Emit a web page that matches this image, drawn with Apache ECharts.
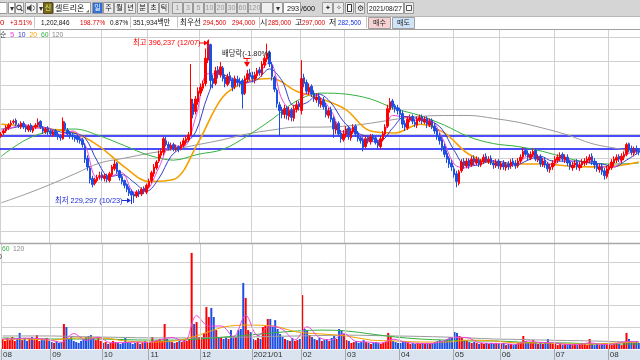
<!DOCTYPE html>
<html><head><meta charset="utf-8">
<script src="https://cdn.jsdelivr.net/npm/echarts@6/dist/echarts.min.js"></script>
<style>html,body{margin:0;padding:0;background:#fff;overflow:hidden}#c{width:640px;height:360px}</style>
</head><body><div id="c"></div>
<script>
// ---- categories (trading days per month shown) ----
const monthLabels = ['08','09','10','11','12','2021/01','02','03','04','05','06','07','08'];
const monthCounts = [20,21,19,21,21,20,18,22,22,19,22,22,13];

// ---- daily prices, thousand KRW ----
const openK = [
 298,301,303,306,310,312,314,309,307,311,307,304,309,303,307,309,313,306,302,306,
 303,299,303,300,298,295,311,304,301,299,298,297,295,294,287,275,265,254,249,252,256,
 258,254,257,252,258,264,270,262,256,252,248,244,241,238,236,241,238,244,240,
 246,252,259,265,272,278,281,293,289,285,289,284,287,285,288,292,294,299,331,323,333,
 342,347,352,376,392,357,352,366,361,368,358,351,360,356,349,356,354,355,342,356,363,
 360,356,360,366,362,371,377,384,371,358,345,330,325,320,327,318,325,316,325,331,
 324,358,353,343,349,342,335,339,330,335,329,319,325,316,304,311,301,294,
 299,306,296,302,308,301,296,294,287,296,292,298,296,292,287,294,300,308,325,334,329,327,
 325,321,311,306,314,318,312,309,314,318,312,316,309,314,308,304,298,294,287,280,275,270,
 264,259,249,262,272,267,273,268,275,270,273,268,271,277,271,275,270,267,272,
 266,270,265,269,267,272,270,267,272,276,283,280,275,278,283,273,277,268,273,269,263,266,
 270,273,275,279,273,276,271,265,268,271,265,268,270,271,273,277,272,269,263,267,262,256,
 263,265,270,273,277,273,276,279,290,285,280,285,283];
const closeK = [
 300,303,307,309,311,313,310,308,311,307,305,308,304,306,309,312,307,303,305,302,
 300,302,299,297,296,313,305,300,298,297,295,294,293,289,274,266,253,248,253,255,257,
 255,257,253,259,266,269,261,255,251,247,243,239,237,236,240,238,243,241,247,
 251,260,266,271,279,282,295,289,286,288,284,286,284,289,293,295,299,336,320,336,344,
 348,352,378,390,355,352,365,362,369,357,352,359,355,348,357,353,352,341,357,362,359,
 357,361,365,363,372,378,383,372,359,346,331,324,320,326,319,324,317,326,330,328,
 357,352,344,348,341,336,338,331,334,328,320,324,315,305,310,300,295,300,
 305,297,303,307,300,295,293,286,295,293,297,295,291,288,295,300,307,326,333,328,326,324,
 320,310,307,315,317,313,310,315,317,313,315,310,313,307,303,297,293,286,279,274,269,266,
 258,251,261,271,268,272,267,274,271,274,269,272,276,272,274,270,268,271,267,
 269,266,268,266,271,269,267,272,276,282,279,276,279,282,274,276,269,272,268,264,266,270,
 274,276,278,274,276,270,266,268,270,266,268,271,272,274,276,271,268,264,266,261,257,264,
 266,271,274,276,274,277,279,289,284,281,284,282,281];
const lowK = [
 296,299,301,304,307,310,308,306,305,305,302,302,302,301,305,307,305,300,300,299,
 298,297,297,294,293,294,303,297,295,294,292,291,290,286,270,262,249,245,247,250,253,
 252,251,250,250,256,262,259,252,248,244,240,236,234,229,234,235,236,238,238,
 244,249,256,263,270,275,278,287,283,283,282,282,281,283,286,289,292,298,316,320,330,
 339,344,349,373,346,347,350,357,358,354,348,349,352,344,346,349,348,326,340,353,355,
 353,352,357,360,359,368,374,369,355,343,327,298,316,316,315,314,313,313,322,324,
 320,348,341,340,338,333,332,328,327,325,317,316,312,296,300,297,291,292,
 296,294,293,300,297,292,290,282,285,290,289,292,289,285,284,292,298,306,322,325,322,320,
 316,306,303,304,312,310,307,306,312,310,310,306,307,305,300,294,289,282,276,270,265,262,
 255,245,247,260,264,265,264,266,268,268,266,266,269,270,269,268,264,265,264,
 263,263,262,263,264,266,264,265,270,274,277,273,273,276,272,271,266,266,265,261,260,263,
 267,270,272,271,270,267,263,262,265,263,262,265,267,268,270,268,264,261,260,258,253,254,
 259,263,267,270,271,270,273,277,281,278,277,279,278];
const highK = [
 302,305,309,311,314,315,316,311,313,313,309,310,311,308,311,316,314,308,307,308,
 305,304,305,302,300,317,313,306,303,301,299,299,297,296,290,278,267,257,255,258,261,
 261,259,259,261,268,273,271,263,258,253,249,246,243,240,242,243,245,246,249,
 254,262,269,273,283,285,297,297,292,291,291,289,288,292,296,298,302,372,336,339,348,
 352,355,388,396.2,393,361,369,370,374,370,361,362,364,358,360,360,358,357,360,366,367,
 364,364,368,369,375,381,393,386,374,360,347,333,328,330,329,328,327,330,334,334,
 376,362,356,352,351,345,342,342,337,338,332,327,328,318,313,313,304,304,
 308,308,305,310,310,303,298,296,298,298,300,300,298,294,298,303,310,330,337,336,331,330,
 327,324,314,318,320,320,315,318,320,320,318,318,316,316,311,306,301,297,290,283,277,273,
 267,262,263,274,275,275,275,277,278,277,276,274,279,280,277,278,273,274,274,
 272,273,271,272,274,275,273,275,279,286,285,283,282,285,285,279,279,275,276,271,269,273,
 277,279,281,281,279,279,273,271,273,274,271,274,275,277,279,280,275,272,269,270,265,267,
 269,274,277,279,279,280,282,291,291,288,287,288,285];
// ---- daily volume, 10k shares ----
const volume = [
 46,37,51,41,55,37,46,74,41,51,37,46,55,41,64,37,46,41,51,37,
 32,28,37,28,32,115,101,46,55,37,32,28,37,46,55,60,64,51,41,55,37,
 28,32,23,28,37,32,28,23,28,51,32,28,23,28,32,23,28,37,32,
 32,55,37,41,46,37,115,46,37,32,28,32,37,32,41,37,46,442,115,124,55,
 55,74,193,147,189,147,87,55,51,46,55,46,87,51,55,87,92,304,235,87,78,
 46,41,51,46,101,106,138,138,101,133,92,69,55,46,41,37,51,37,41,46,
 248,92,83,64,55,46,41,51,37,41,46,37,51,60,46,92,87,69,
 41,37,28,32,37,28,32,41,32,28,23,28,32,28,23,28,32,74,55,37,32,28,
 28,32,37,28,23,28,23,28,23,28,23,28,23,28,32,37,41,37,41,46,55,51,
 78,74,60,55,41,37,32,28,32,28,23,28,23,28,23,28,23,28,23,
 23,28,18,23,23,18,23,28,32,60,37,28,32,41,28,23,28,23,28,46,28,23,
 23,18,23,18,23,18,23,18,23,18,23,28,23,18,46,23,18,23,18,23,28,23,
 23,18,23,28,23,18,28,74,46,37,28,32,28];

// ---- moving averages (category index samples) ----
const maIdxA = [0,4,9,14,19,24,29,34,39,44,49,54,59,64,69,74,79,84,89,94,99,104,109,114,119,124,129,134,139,144,149,154,159,164,169,174,179,184,189,194,199,204,209,214,219,224,229,234,239,244,249,254,259];
const ma5 = [303,306,310,306,306,299,303,289,255,256,260,240,242,265,288,287,317,362,361,354,352,361,374,336,322,342,339,324,302,302,292,293,319,317,314,314,297,269,265,271,273,268,268,277,276,268,276,268,272,266,266,279,282];
const ma10 = [305,306,308,308,306,302,301,296,272,256,258,250,241,254,277,288,302,340,362,357,353,356,367,355,329,332,341,332,313,302,297,293,306,318,316,314,305,283,267,268,272,271,268,273,277,272,272,272,270,269,266,273,281];
const maIdxB = [0,10,20,30,40,50,60,70,80,90,100,110,120,130,140,150,160,170,180,190,200,210,220,230,240,250,259];
const ma20 = [310,308,305,301,287,266,251,253,291,338,354,357,344,336,325,303,301,310,301,279,270,269,269,267,266,267,271];
const ma60 = [277,294,303,305,298,288,278,273,279,284,298,315,334,342,341,336,326,319,309,297,290,287,282,275,270,269,270];
const ma120 = [229,238,248,259,270,275,280,284,289,294,300,304,307,307,308,311,315,318,319,319,316,312,306,299,290,285,281];
const vma5 = [46,46,50,49,42,31,71,40,54,29,29,32,30,42,53,34,153,105,106,57,155,61,106,90,42,102,52,42,71,35,32,27,45,31,26,25,35,54,53,29,26,25,21,37,30,29,21,20,28,21,23,34,34];
const vma20 = [41,46,41,51,51,37,32,37,64,101,110,106,78,69,60,41,37,32,32,41,37,28,28,23,23,28,32];
const vma60 = [51,48,46,46,46,43,41,41,46,55,64,74,83,87,83,69,55,46,41,37,37,32,28,28,23,23,23];
const vma120 = [60,60,60,57,55,53,51,51,51,53,55,58,60,62,64,62,60,58,55,51,46,44,41,39,37,34,32];

const supportLines = [298.4, 284.5];
const priceGridLines = [200, 225, 250, 275, 300, 325, 350, 375, 400];
const volGridLines = [100, 200, 300, 400];

// ---- build ----
const categories = [];
const monthStart = new Set();
monthCounts.forEach((n, m) => { monthStart.add(categories.length); for (let d = 1; d <= n; d++) categories.push(monthLabels[m] + '|' + d); });
const UP = '#ff0000', DOWN = '#1f4fe0';
const C5 = '#ee44dd', C10 = '#3340c8', C20 = '#f5a000', C60 = '#33b040', C120 = '#9a9a9a';
const candles = categories.map((_, i) => [openK[i], closeK[i], lowK[i], highK[i]]);
const vols = volume.map((v, i) => ({ value: v, itemStyle: { color: closeK[i] >= openK[i] ? UP : DOWN } }));
const pair = (idx, vals) => idx.map((x, k) => [x, vals[k]]);
const isStart = (i) => monthStart.has(i);
const GRID = '#d0d0d0';
const FONT = 'Liberation Sans, Noto Sans CJK KR, sans-serif';
const gridMark = (v) => ({ yAxis: v, lineStyle: { color: GRID, width: 1, type: 'solid' } });
const blueMark = (v) => ({ yAxis: v, lineStyle: { color: '#1010ff', width: 1.5, type: 'solid' } });

function maLine(name, idx, vals, color, xi, yi, w) {
  return { type: 'line', name, xAxisIndex: xi, yAxisIndex: yi, data: pair(idx, vals), showSymbol: false, smooth: 0.35,
    lineStyle: { color, width: w || 1 }, silent: true, z: 3 };
}
function T(text, x, y, color, size, extra) {
  return Object.assign({ type: 'text', x, y, silent: true, z: 100,
    style: Object.assign({ text, fill: color, font: (size || 8) + 'px ' + FONT, verticalAlign: 'middle', textVerticalAlign: 'middle', textAlign: 'left' }, (extra && extra.style) || {}) },
    extra ? { scaleX: extra.scaleX || 1 } : {});
}
function R(x, y, w, h, fill, stroke) {
  return { type: 'rect', silent: true, z: 90, shape: { x, y, width: w, height: h }, style: { fill, stroke: stroke || null, lineWidth: 1 } };
}
function L(x1, y1, x2, y2, color, w) {
  return { type: 'line', silent: true, z: 95, shape: { x1, y1, x2, y2 }, style: { stroke: color, lineWidth: w || 1 } };
}
function P(points, color) {
  return { type: 'polygon', silent: true, z: 96, shape: { points }, style: { fill: color } };
}
function BTN(x, w, label, fill, color, size) {
  return [R(x + 0.5, 2.5, w, 11, fill, '#9a9a9a'), T(label, x + w / 2 + 0.5, 8.5, color, size || 7, { style: { textAlign: 'center' } })];
}

const graphic = [
  // toolbar row 1
  R(0, 0, 640, 16, '#d5d5d5'),
  R(-1, 2.5, 8, 11, '#fff', '#9a9a9a'),
  ...BTN(8, 6, '▾', '#fff', '#333', 8),
  R(15.5, 2.5, 8, 11, '#f4f4f4', '#9a9a9a'),
  { type: 'circle', silent: true, z: 96, shape: { cx: 19, cy: 7.5, r: 2.3 }, style: { fill: 'none', stroke: '#333', lineWidth: 1 } },
  L(20.6, 9.2, 22.4, 11.2, '#333', 1.2),
  R(25.5, 2.5, 11, 11, '#f4f4f4', '#9a9a9a'),
  P([[27, 6.5], [29, 6.5], [31.5, 4], [31.5, 12], [29, 9.5], [27, 9.5]], '#444'),
  L(33, 5.5, 34.5, 7.5, '#444'), L(33, 10.5, 34.5, 8.5, '#444'),
  ...BTN(37, 6, '▾', '#f4f4f4', '#333', 8),
  R(43.5, 2.5, 9, 11, '#7a6422', '#5a4a10'),
  T('신', 48, 8.5, '#d8ff70', 7, { style: { textAlign: 'center' } }),
  R(53.5, 2.5, 37, 11, '#fff', '#9a9a9a'),
  T('셀트리온', 55, 8.5, '#111', 8),
  P([[86, 12.5], [89, 12.5], [89, 9.5]], '#777'),
  ...BTN(92, 10, '일', '#2f6fd6', '#fff'),
  ...BTN(103, 10, '주', '#ececec', '#111'),
  ...BTN(114, 10, '월', '#ececec', '#111'),
  ...BTN(125, 10, '년', '#ececec', '#111'),
  ...BTN(137, 10, '분', '#ececec', '#111'),
  ...BTN(148, 10, '초', '#ececec', '#111'),
  ...BTN(159, 9, '틱', '#ececec', '#111'),
  ...BTN(172, 10, '1', '#e2e2e2', '#999'),
  ...BTN(183, 9, '3', '#e2e2e2', '#999'),
  ...BTN(193, 10, '5', '#e2e2e2', '#999'),
  ...BTN(204, 10, '10', '#e2e2e2', '#999'),
  ...BTN(215, 10, '20', '#e2e2e2', '#999'),
  ...BTN(226, 10, '30', '#e2e2e2', '#999'),
  ...BTN(237, 10, '60', '#e2e2e2', '#999'),
  ...BTN(248, 12, '120', '#e2e2e2', '#999'),
  R(261.5, 2.5, 11, 11, '#f0f0f0', '#9a9a9a'),
  ...BTN(273, 9, '▾', '#f4f4f4', '#333', 8),
  R(283.5, 2.5, 17, 11, '#fff', '#9a9a9a'),
  T('293', 299, 8.5, '#111', 8, { style: { textAlign: 'right' }, scaleX: 0.9 }),
  T('/600', 301, 8.5, '#111', 8, { scaleX: 0.9 }),
  R(322.5, 2.5, 10, 11, '#eee', '#9a9a9a'), T('✦', 327.5, 8.5, '#333', 7, { style: { textAlign: 'center' } }),
  R(333.5, 2.5, 10, 11, '#eee', '#9a9a9a'), T('✧', 338.5, 8.5, '#555', 7, { style: { textAlign: 'center' } }),
  R(345.5, 2.5, 8, 11, '#eee', '#9a9a9a'), R(347.5, 4.5, 4, 7, '#fff', '#333'),
  R(355.5, 2.5, 9, 11, '#eee', '#9a9a9a'), T('⚙', 360, 8.5, '#333', 8, { style: { textAlign: 'center' } }),
  R(367.5, 2.5, 36, 11, '#fff', '#9a9a9a'),
  T('2021/08/27', 369, 8.5, '#111', 8, { scaleX: 0.82 }),
  R(404.5, 2.5, 9, 11, '#eee', '#9a9a9a'), R(406.5, 5.5, 5, 5, '#fff', '#555'),
  // row 2 info
  R(0, 16, 640, 13, '#ffffff'),
  L(0, 16.5, 640, 16.5, '#b8b8b8'),
  T('0', 0, 22.5, '#e00000', 8),
  T('+3.51%', 10, 22.5, '#e00000', 8, { scaleX: 0.8 }),
  L(34.5, 17, 34.5, 28, '#c8c8c8'),
  T('1,202,846', 41, 22.5, '#111', 8, { scaleX: 0.8 }),
  T('198.77%', 80, 22.5, '#e00000', 8, { scaleX: 0.8 }),
  T('0.87%', 110, 22.5, '#111', 8, { scaleX: 0.8 }),
  L(130.5, 17, 130.5, 28, '#c8c8c8'),
  T('351,934백만', 133, 22.5, '#111', 8, { scaleX: 0.85 }),
  L(177.5, 17, 177.5, 28, '#c8c8c8'),
  T('최우선', 180, 22.5, '#111', 8, { scaleX: 0.95 }),
  T('294,500', 203, 22.5, '#e00000', 8, { scaleX: 0.8 }),
  T('294,000', 232, 22.5, '#e00000', 8, { scaleX: 0.8 }),
  L(259.5, 17, 259.5, 28, '#c8c8c8'),
  T('시', 260, 22.5, '#111', 8),
  T('285,000', 268, 22.5, '#e00000', 8, { scaleX: 0.8 }),
  T('고', 295, 22.5, '#111', 8),
  T('297,000', 302, 22.5, '#e00000', 8, { scaleX: 0.8 }),
  T('저', 329, 22.5, '#111', 8),
  T('282,500', 338, 22.5, '#1030e0', 8, { scaleX: 0.8 }),
  L(366.5, 17, 366.5, 28, '#c8c8c8'),
  R(368.5, 17.5, 22, 11, '#f8d2d2', '#a0a0a0'), T('매수', 379.5, 23, '#222', 7, { style: { textAlign: 'center' } }),
  R(392.5, 17.5, 22, 11, '#cfe4f8', '#a0a0a0'), T('매도', 403.5, 23, '#222', 7, { style: { textAlign: 'center' } }),
  L(0, 29.5, 640, 29.5, '#a0a0a0', 1.2),
  // pane separator
  L(0, 243.5, 640, 243.5, '#a8a8a8', 1.5),
  // price MA legend
  T('순', 0, 35, '#444', 7),
  T('5', 10, 35, C5, 8),
  T('10', 18, 35, C10, 8, { scaleX: 0.85 }),
  T('20', 29.5, 35, C20, 8, { scaleX: 0.85 }),
  T('60', 41, 35, C60, 8, { scaleX: 0.85 }),
  T('120', 52, 35, '#888', 8, { scaleX: 0.85 }),
  // volume MA legend
  T('60', 2, 248.5, C60, 8, { scaleX: 0.85 }),
  T('120', 13, 248.5, '#888', 8, { scaleX: 0.85 }),
  T('0', -2.5, 256.5, '#444', 8),
  // annotations
  T('최고 396,237 (12/07)', 133, 43, '#ff0000', 8, { scaleX: 0.92 }),
  L(199, 43, 205, 43, '#ff0000', 1),
  P([[204, 40.5], [208, 43], [204, 45.5]], '#ff0000'),
  L(208.5, 39.5, 208.5, 46.5, '#ff0000', 1),
  T('배당락(-1.80%)', 222, 53.5, '#222', 8, { scaleX: 0.92 }),
  L(243.5, 58.5, 250.5, 58.5, '#ff0000', 1),
  L(247, 58.5, 247, 63, '#ff0000', 1),
  P([[244, 62], [250, 62], [247, 67]], '#ff0000'),
  T('최저 229,297 (10/23)', 55, 200.5, '#1a2ad8', 8, { scaleX: 0.92 }),
  L(122, 200.5, 128, 200.5, '#1a2ad8', 1),
  P([[127, 198], [131, 200.5], [127, 203]], '#1a2ad8'),
  L(131.5, 197, 131.5, 204, '#1a2ad8', 1),
  // x-axis band
  Object.assign(R(0, 350, 640, 10, '#d9e4f0'), { z: -5 })
];

const sl = { show: true, interval: isStart, lineStyle: { color: GRID, width: 1 } };
const hidden = () => ({ axisLine: { show: false }, axisTick: { show: false }, axisLabel: { show: false } });
const option = {
  animation: false,
  backgroundColor: '#ffffff',
  grid: [
    { left: -1, right: 0, top: 29, height: 214 },
    { left: -1, right: 0, top: 243, height: 106 }
  ],
  xAxis: [
    Object.assign({ type: 'category', gridIndex: 0, data: categories, boundaryGap: true, splitLine: sl }, hidden()),
    { type: 'category', gridIndex: 1, data: categories, boundaryGap: true, z: 10,
      axisLine: { show: false },
      axisTick: { show: true, interval: isStart, length: 11, lineStyle: { color: '#a8a8a8', width: 1 } },
      axisLabel: { show: true, interval: isStart, formatter: (v) => v.split('|')[0], align: 'left', margin: 2, color: '#333', fontSize: 8, fontFamily: FONT, padding: [0, 0, 0, 0.5] },
      splitLine: sl }
  ],
  yAxis: [
    Object.assign({ type: 'value', gridIndex: 0, min: 187.64, max: 408.06, splitLine: { show: false } }, hidden()),
    Object.assign({ type: 'value', gridIndex: 1, min: 0, max: 487.6, splitLine: { show: false } }, hidden())
  ],
  graphic,
  series: [
    maLine('MA120', maIdxB, ma120, C120, 0, 0, 1),
    maLine('MA60', maIdxB, ma60, C60, 0, 0, 1),
    maLine('MA20', maIdxB, ma20, C20, 0, 0, 1.6),
    maLine('MA10', maIdxA, ma10, C10, 0, 0, 1),
    maLine('MA5', maIdxA, ma5, C5, 0, 0, 1),
    { type: 'candlestick', name: 'price', xAxisIndex: 0, yAxisIndex: 0, data: candles, barWidth: 2, z: 4,
      itemStyle: { color: UP, color0: DOWN, borderColor: UP, borderColor0: DOWN, borderWidth: 1 },
      markLine: { silent: true, symbol: 'none', z: 1, label: { show: false }, lineStyle: { color: GRID, width: 1, type: 'solid' },
        data: priceGridLines.map(gridMark).concat(supportLines.map(blueMark)) } },
    { type: 'bar', name: 'volume', xAxisIndex: 1, yAxisIndex: 1, data: vols, barWidth: 2, z: 2,
      markLine: { silent: true, symbol: 'none', z: 1, label: { show: false }, lineStyle: { color: GRID, width: 1, type: 'solid' },
        data: volGridLines.map(gridMark) } },
    maLine('VMA120', maIdxB, vma120, C120, 1, 1, 1),
    maLine('VMA60', maIdxB, vma60, C60, 1, 1, 1),
    maLine('VMA20', maIdxB, vma20, C20, 1, 1, 1),
    maLine('VMA5', maIdxA, vma5, C5, 1, 1, 1)
  ]
};
const chart = echarts.init(document.getElementById('c'), null, { renderer: 'canvas', width: 640, height: 360 });
chart.setOption(option);
</script>
</body></html>
